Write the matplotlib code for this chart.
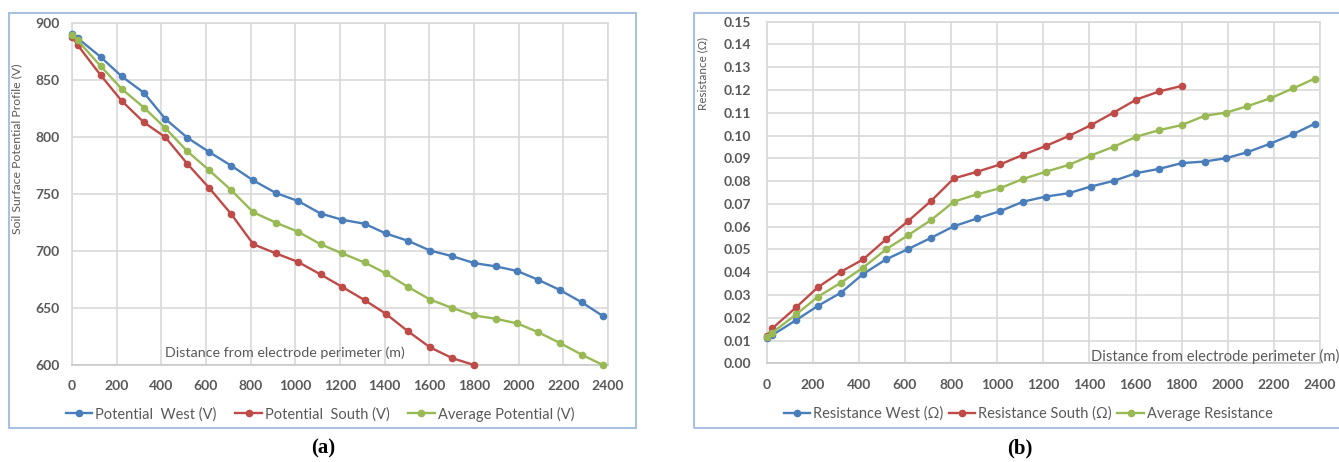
import matplotlib
matplotlib.use("Agg")
import matplotlib.pyplot as plt
from matplotlib.patches import Rectangle

# ---------------- data ----------------
distance = [0, 25, 128, 222, 322, 418, 517, 614, 713, 812, 913, 1012, 1113,
            1210, 1310, 1405, 1505, 1603, 1703, 1800, 1900, 1994, 2085, 2183,
            2283, 2377]
distance_south = distance[:20]

potential_west = [891, 887, 870.5, 853.5, 839, 816, 799.5, 787, 775, 762, 751,
                  744, 733, 727.5, 724, 715.5, 709, 700.5, 695.5, 689.5, 686.5,
                  682.5, 675, 666, 655, 643]
potential_south = [888, 881, 854.5, 832, 813, 800, 776.5, 755.5, 732.5, 706,
                   698, 690.5, 679.5, 668.5, 657, 645, 629.5, 615.5, 606, 600]
potential_avg = [890, 885, 862.5, 842.5, 826, 808, 787.5, 771, 753.5, 734, 725,
                 717, 706, 698, 690, 680.5, 668.5, 657.5, 650, 643.5, 640.5,
                 636.5, 629, 619.5, 609, 600]

res_west = [0.0110, 0.0124, 0.0190, 0.0252, 0.0310, 0.0392, 0.0456, 0.0502,
            0.0551, 0.0602, 0.0636, 0.0668, 0.0710, 0.0732, 0.0747, 0.0776,
            0.0801, 0.0835, 0.0854, 0.0879, 0.0886, 0.0901, 0.0927, 0.0964,
            0.1006, 0.1052]
res_south = [0.0118, 0.0154, 0.0246, 0.0334, 0.0402, 0.0456, 0.0544, 0.0625,
             0.0713, 0.0812, 0.0841, 0.0873, 0.0916, 0.0954, 0.0998, 0.1045,
             0.1101, 0.1158, 0.1194, 0.1218]
res_avg = [0.0115, 0.0135, 0.0215, 0.0292, 0.0354, 0.0420, 0.0500, 0.0563,
           0.0629, 0.0710, 0.0742, 0.0769, 0.0810, 0.0841, 0.0871, 0.0912,
           0.0951, 0.0995, 0.1024, 0.1046, 0.1087, 0.1101, 0.1129, 0.1163,
           0.1207, 0.1250]

x_ticks = list(range(0, 2401, 200))
pot_ticks = list(range(600, 901, 50))
res_ticks = [i / 100 for i in range(0, 16)]

labels_a = ["Potential  West (V)", "Potential  South (V)", "Average Potential (V)"]
labels_b = ["Resistance West (\u03a9)", "Resistance South (\u03a9)", "Average Resistance"]

# ---------------- style ----------------
BLUE = "#4a7ebb"
RED = "#be4b48"
GREEN = "#98b954"
TXT = "#595959"
GRID = "#d9d9d9"
FRAME = "#a9c1e0"
plt.rcParams["font.family"] = ["Lato", "DejaVu Sans"]

W, H = 1339, 462
fig = plt.figure(figsize=(W / 100, H / 100), dpi=100)


def px_axes(l, r, t, b):
    return fig.add_axes([l / W, 1 - b / H, (r - l) / W, (b - t) / H])


def style(ax, xlim, ylim, yt, ylab_fmt, ypad):
    ax.set_xlim(*xlim)
    ax.set_ylim(*ylim)
    ax.set_xticks(x_ticks)
    ax.set_yticks(yt)
    ax.set_yticklabels([ylab_fmt(v) for v in yt])
    ax.grid(True, color=GRID, lw=1.2)
    ax.set_axisbelow(True)
    for s in ax.spines.values():
        s.set_color(GRID)
        s.set_linewidth(1.2)
    ax.spines["bottom"].set_color("#c8c8c8")
    ax.tick_params(length=0, labelsize=10, labelcolor=TXT)
    ax.tick_params(axis="y", pad=ypad)
    ax.tick_params(axis="x", pad=11)
    for lab in ax.get_xticklabels() + ax.get_yticklabels():
        lab.set_fontweight("bold")


mk = dict(marker="o", markersize=4.5, lw=1.7, clip_on=False, zorder=3)

# ---------------- panel (a) ----------------
ax1 = px_axes(72, 608, 23.3, 365)
ax1.plot(distance, potential_west, color=BLUE, label=labels_a[0], **mk)
ax1.plot(distance_south, potential_south, color=RED, label=labels_a[1], **mk)
ax1.plot(distance, potential_avg, color=GREEN, label=labels_a[2], **mk)
style(ax1, (0, 2400), (600, 900), pot_ticks, lambda v: f"{v:d}", 9)
ax1.set_ylabel("Soil Surface Potential Profile (V)", fontsize=8.8, color=TXT)
ax1.yaxis.set_label_coords(-0.093, 0.632)
ax1.text(0.1735, 0.035, "Distance from electrode perimeter (m)", transform=ax1.transAxes,
         fontsize=10.3, color=TXT, ha="left", va="center")
fig.legend(*ax1.get_legend_handles_labels(), loc="center",
           bbox_to_anchor=(320 / W, 1 - 414 / H), ncol=3, frameon=False,
           fontsize=10.5, numpoints=1, handlelength=1.8, handletextpad=0.2,
           columnspacing=1.3, labelcolor=TXT)

# ---------------- panel (b) ----------------
ax2 = px_axes(766.7, 1320, 21.7, 363.3)
ax2.plot(distance, res_west, color=BLUE, label=labels_b[0], **mk)
ax2.plot(distance_south, res_south, color=RED, label=labels_b[1], **mk)
ax2.plot(distance, res_avg, color=GREEN, label=labels_b[2], **mk)
style(ax2, (0, 2400), (0, 0.15), res_ticks, lambda v: f"{v:.2f}", 11)
ax2.set_ylabel("Resistance (\u03a9)", fontsize=8.4, color=TXT)
ax2.yaxis.set_label_coords(-0.106, 0.848)
ax2.text(0.587, 0.021, "Distance from electrode perimeter (m)", transform=ax2.transAxes,
         fontsize=10.6, color=TXT, ha="left", va="center", clip_on=False)
fig.legend(*ax2.get_legend_handles_labels(), loc="center",
           bbox_to_anchor=(1028 / W, 1 - 414 / H), ncol=3, frameon=False,
           fontsize=10.5, numpoints=1, handlelength=1.8, handletextpad=0.2,
           columnspacing=0.4, labelcolor=TXT)

# ---------------- frames and panel letters ----------------
fig.add_artist(Rectangle((9 / W, 1 - 428 / H), (636 - 9) / W, (428 - 13) / H,
                         transform=fig.transFigure, fill=False, ec=FRAME, lw=1.5))
fig.add_artist(Rectangle((694 / W, 1 - 428 / H), (1360 - 694) / W, (428 - 13) / H,
                         transform=fig.transFigure, fill=False, ec=FRAME, lw=1.5))
fig.text(323 / W, 1 - 448 / H, "(a)", family="Liberation Serif", fontweight="bold",
         fontsize=15, ha="center", va="center", color="black")
fig.text(1020 / W, 1 - 448 / H, "(b)", family="Liberation Serif", fontweight="bold",
         fontsize=15, ha="center", va="center", color="black")

fig.savefig("out.png", dpi=100)
